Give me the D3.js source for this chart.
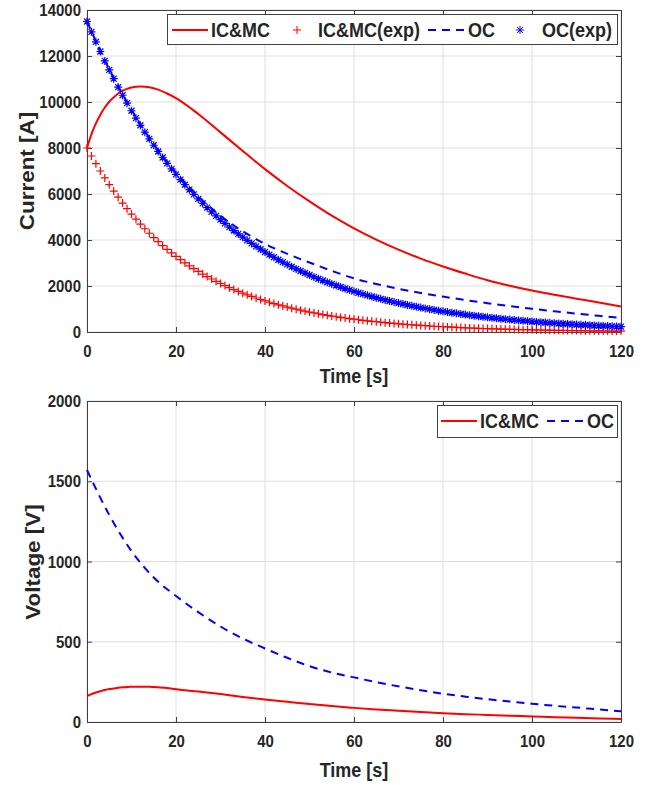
<!DOCTYPE html>
<html>
<head>
<meta charset="utf-8">
<script src="https://cdn.jsdelivr.net/npm/d3@7"></script>
<style>
  body { margin: 0; background: #fff; }
  text { font-family: "Liberation Sans", Arial, sans-serif; font-weight: bold; fill: #262626; }
</style>
</head>
<body>
<svg id="chart" width="658" height="785"></svg>
<script>
// ---- data ----
var xTicks = [0, 20, 40, 60, 80, 100, 120];
var currentTicks = [0, 2000, 4000, 6000, 8000, 10000, 12000, 14000];
var voltageTicks = [0, 500, 1000, 1500, 2000];

// simulated curves (IC&MC)
var icmcTime = [0,1,2,3,4,5,6,7,8,9,10,12,14,16,18,20,25,30,35,40,45,50,55,60,65,70,75,80,85,90,95,100,105,110,115,120];
var icmcCurrent = [8000,8600,9070,9450,9760,10010,10200,10370,10490,10570,10630,10670,10640,10540,10370,10170,9480,8680,7870,7080,6350,5680,5060,4510,4020,3580,3190,2850,2540,2250,2010,1800,1620,1450,1280,1110];
var icmcVoltage = [162,174,184,192,199,205,209,213,216,218,219,220,219,216,212,204,190,174,156,140,126,112,99,88,78,70,62,55,49,44,39,35,30,26,22,19];

// simulated curves (OC)
var ocTime = [0,5,10,15,20,25,30,35,40,45,50,55,60,65,70,75,80,85,90,95,100,105,110,115,120];
var ocCurrent = [13500,11420,9660,8170,6930,5900,5050,4380,3830,3400,3020,2660,2330,2090,1880,1700,1540,1390,1255,1130,1010,900,800,705,610];
var ocVoltage = [1570,1290,1065,900,785,685,595,520,458,400,348,308,278,248,222,198,176,158,142,128,114,101,90,78,67];

// measured samples, one per second
var expTime = d3.range(0, 121);
var icmcExp = [8000,7652,7320,7001,6697,6406,6127,5861,5606,5363,
  5129,4906,4693,4489,4294,4107,3929,3758,3595,3438,
  3289,3146,3009,2878,2753,2634,2519,2410,2305,2205,
  2109,2017,1929,1846,1765,1689,1615,1545,1478,1414,
  1352,1293,1237,1183,1132,1083,1036,991,948,906,
  867,829,793,759,726,694,664,635,608,581,
  556,532,509,487,465,445,426,407,390,373,
  356,341,326,312,298,285,273,261,250,239,
  229,219,209,200,191,183,175,167,160,153,
  147,140,134,128,123,117,112,107,103,98,
  94,90,86,82,79,75,72,69,66,63,
  60,58,55,53,50,48,46,44,42,40,39];
var ocExp = [13500,13050,12615,12195,11788,11395,11015,10648,10293,9950,
  9619,9298,8988,8689,8399,8119,7849,7587,7334,7090,
  6853,6625,6404,6190,5984,5785,5592,5405,5225,5051,
  4883,4720,4563,4411,4264,4122,3984,3852,3723,3599,
  3479,3363,3251,3143,3038,2937,2839,2744,2653,2564,
  2479,2396,2317,2239,2165,2092,2023,1955,1890,1827,
  1766,1707,1650,1595,1542,1491,1441,1393,1347,1302,
  1258,1216,1176,1136,1098,1062,1026,992,959,927,
  897,867,838,810,783,757,732,708,684,661,
  639,618,597,577,558,539,521,504,487,471,
  455,440,425,411,397,384,371,359,347,335,
  324,313,303,293,283,273,264,256,247,239,231];

var RED = "#ff0000", BLUE = "#0000ff", AXIS = "#404040", GRID = "#dfdfdf";
var STRETCH = "scale(1,1.15)";

var svg = d3.select("#chart");

var x = d3.scaleLinear().domain([0, 120]).range([87, 621]);
var yCur = d3.scaleLinear().domain([0, 14000]).range([332, 10]);
var yVol = d3.scaleLinear().domain([0, 2000]).range([722, 401]);

var plusPath = "M-4,0H4M0,-4V4";
var starPath = "M-4,0H4M0,-4V4M-3,-3L3,3M-3,3L3,-3";

function panel(y, yTicks) {
  var top = y.range()[1], bottom = y.range()[0];
  var g = svg.append("g");

  // grid
  g.append("g").selectAll("line").data(xTicks).join("line")
    .attr("x1", d => x(d)).attr("x2", d => x(d))
    .attr("y1", top).attr("y2", bottom)
    .attr("stroke", GRID);
  g.append("g").selectAll("line").data(yTicks).join("line")
    .attr("x1", x.range()[0]).attr("x2", x.range()[1])
    .attr("y1", d => y(d)).attr("y2", d => y(d))
    .attr("stroke", GRID);

  // axes, MATLAB style ticks pointing inward
  var xa = g.append("g").attr("transform", "translate(0," + bottom + ")")
    .call(d3.axisBottom(x).tickValues(xTicks).tickFormat(d3.format("d")).tickSizeInner(-5).tickSizeOuter(0).tickPadding(11));
  var ya = g.append("g").attr("transform", "translate(" + x.range()[0] + ",0)")
    .call(d3.axisLeft(y).tickValues(yTicks).tickFormat(d3.format("d")).tickSizeInner(-5).tickSizeOuter(0).tickPadding(6));
  var xt = g.append("g").attr("transform", "translate(0," + top + ")")
    .call(d3.axisTop(x).tickValues(xTicks).tickSizeInner(-5).tickSizeOuter(0).tickFormat(""));
  var yr = g.append("g").attr("transform", "translate(" + x.range()[1] + ",0)")
    .call(d3.axisRight(y).tickValues(yTicks).tickSizeInner(-5).tickSizeOuter(0).tickFormat(""));

  [xa, ya, xt, yr].forEach(function(a) {
    a.select(".domain").attr("stroke", AXIS);
    a.selectAll(".tick line").attr("stroke", AXIS);
    a.selectAll(".tick text")
      .attr("fill", "#262626")
      .style("font-size", "15px")
      .style("font-family", '"Liberation Sans", Arial, sans-serif')
      .style("font-weight", "bold")
      .attr("transform", STRETCH);
  });
  return g;
}

function curve(g, xs, ys, y, color, dash) {
  g.append("path")
    .datum(xs.map((t, i) => [t, ys[i]]))
    .attr("fill", "none")
    .attr("stroke", color)
    .attr("stroke-width", 2)
    .attr("stroke-dasharray", dash || null)
    .attr("d", d3.line().x(d => x(d[0])).y(d => y(d[1])).curve(d3.curveMonotoneX));
}

function markers(g, xs, ys, y, color, shape) {
  g.append("g").selectAll("path")
    .data(xs.map((t, i) => [t, ys[i]]))
    .join("path")
    .attr("transform", d => "translate(" + x(d[0]) + "," + y(d[1]) + ")")
    .attr("d", shape)
    .attr("fill", "none")
    .attr("stroke", color)
    .attr("stroke-width", 1.2);
}

function label(txt, tx, ty, rotate, size) {
  svg.append("text")
    .attr("transform", "translate(" + tx + "," + ty + ") " + STRETCH + (rotate ? " rotate(-90)" : ""))
    .attr("text-anchor", "middle")
    .attr("dy", "0.36em")
    .style("font-size", size + "px")
    .text(txt);
}

function legendText(txt, tx, ty) {
  svg.append("text")
    .attr("transform", "translate(" + tx + "," + ty + ") " + STRETCH)
    .attr("dy", "0.36em")
    .style("font-size", "18px")
    .text(txt);
}

// ---- top panel: current ----
var g1 = panel(yCur, currentTicks);
curve(g1, icmcTime, icmcCurrent, yCur, RED);
markers(g1, expTime, icmcExp, yCur, RED, plusPath);
curve(g1, ocTime, ocCurrent, yCur, BLUE, "8,6");
markers(g1, expTime, ocExp, yCur, BLUE, starPath);

label("Time [s]", 354, 376, false, 18);
label("Current [A]", 27, 171, true, 19.5);

// legend top
svg.append("rect").attr("x", 167.5).attr("y", 14.5).attr("width", 450).attr("height", 30)
  .attr("fill", "#fff").attr("stroke", AXIS);
var ly = 30;
svg.append("line").attr("x1", 172).attr("x2", 208).attr("y1", ly).attr("y2", ly).attr("stroke", RED).attr("stroke-width", 2);
legendText("IC&MC", 211, ly);
svg.append("path").attr("d", plusPath).attr("transform", "translate(297," + ly + ")").attr("stroke", RED).attr("fill", "none");
legendText("IC&MC(exp)", 318, ly);
svg.append("line").attr("x1", 428).attr("x2", 466).attr("y1", ly).attr("y2", ly).attr("stroke", BLUE).attr("stroke-width", 2).attr("stroke-dasharray", "8,6");
legendText("OC", 468, ly);
svg.append("path").attr("d", starPath).attr("transform", "translate(520," + ly + ")").attr("stroke", BLUE).attr("fill", "none");
legendText("OC(exp)", 542, ly);

// ---- bottom panel: voltage ----
var g2 = panel(yVol, voltageTicks);
curve(g2, icmcTime, icmcVoltage, yVol, RED);
curve(g2, ocTime, ocVoltage, yVol, BLUE, "8,6");

label("Time [s]", 354, 770, false, 18);
label("Voltage [V]", 33, 562, true, 19.5);

// legend bottom
svg.append("rect").attr("x", 437.5).attr("y", 405.5).attr("width", 180).attr("height", 32)
  .attr("fill", "#fff").attr("stroke", AXIS);
var ly2 = 421;
svg.append("line").attr("x1", 441).attr("x2", 477).attr("y1", ly2).attr("y2", ly2).attr("stroke", RED).attr("stroke-width", 2);
legendText("IC&MC", 480, ly2);
svg.append("line").attr("x1", 547).attr("x2", 585).attr("y1", ly2).attr("y2", ly2).attr("stroke", BLUE).attr("stroke-width", 2).attr("stroke-dasharray", "8,6");
legendText("OC", 587, ly2);
</script>
</body>
</html>
